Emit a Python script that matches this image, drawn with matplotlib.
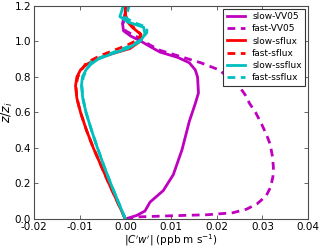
import matplotlib
matplotlib.use('Agg')
import matplotlib.pyplot as plt

# 数据
z_slow_vv05 = [0, 0.02, 0.045, 0.095, 0.16, 0.25, 0.39, 0.45, 0.55, 0.65, 0.71, 0.8, 0.84, 0.88, 0.91, 0.94, 0.97, 1.0, 1.03, 1.06, 1.1, 1.13, 1.16, 1.2]
x_slow_vv05 = [0, 0.0025, 0.0043, 0.0054, 0.0083, 0.0105, 0.0124, 0.0130, 0.0140, 0.0153, 0.0160, 0.0158, 0.0153, 0.0140, 0.0115, 0.0076, 0.0055, 0.0035, 0.0012, -0.0004, -0.0006, -0.0004, 0.0, 0.0]

z_fast_vv05 = [0, 0.012, 0.018, 0.024, 0.035, 0.055, 0.085, 0.13, 0.18, 0.24, 0.29, 0.35, 0.42, 0.48, 0.535, 0.6, 0.65, 0.7, 0.74, 0.79, 0.84, 0.88, 0.91, 0.95, 0.98, 1.02, 1.06, 1.1, 1.15, 1.2]
x_fast_vv05 = [0, 0.003, 0.01, 0.018, 0.0235, 0.0265, 0.0288, 0.0308, 0.0318, 0.0323, 0.0324, 0.0322, 0.0317, 0.0308, 0.0298, 0.0285, 0.0272, 0.0262, 0.0251, 0.0229, 0.0205, 0.0165, 0.0127, 0.0076, 0.0054, 0.003, 0.0, -0.0005, 0.0, 0.0]

z_slow_sflux = [0, 0.1, 0.2, 0.3, 0.4, 0.5, 0.6, 0.68, 0.75, 0.8, 0.84, 0.87, 0.9, 0.93, 0.96, 1.0, 1.04, 1.08, 1.11, 1.15, 1.2]
x_slow_sflux = [0, -0.0018, -0.0036, -0.0053, -0.0070, -0.0085, -0.0098, -0.0106, -0.0109, -0.0106, -0.0098, -0.0085, -0.0065, -0.0030, 0.0010, 0.0032, 0.0034, 0.0015, 0.0005, 0.0, 0.0]

z_fast_sflux = [0, 0.1, 0.2, 0.3, 0.4, 0.5, 0.6, 0.68, 0.75, 0.8, 0.84, 0.88, 0.92, 0.95, 0.98, 1.01, 1.04, 1.08, 1.11, 1.15, 1.2]
x_fast_sflux = [0, -0.0018, -0.0036, -0.0053, -0.0070, -0.0085, -0.0098, -0.0106, -0.0108, -0.0104, -0.0096, -0.0085, -0.0055, -0.0025, 0.0005, 0.0028, 0.0034, 0.0018, 0.0006, 0.0, 0.0]

z_slow_ssflux = [0, 0.1, 0.2, 0.3, 0.4, 0.5, 0.6, 0.68, 0.75, 0.8, 0.84, 0.87, 0.9, 0.93, 0.96, 1.0, 1.04, 1.08, 1.11, 1.14, 1.17, 1.2]
x_slow_ssflux = [0, -0.0016, -0.0032, -0.0047, -0.0061, -0.0074, -0.0086, -0.0093, -0.0096, -0.0094, -0.0086, -0.0076, -0.0060, -0.0030, 0.0005, 0.0032, 0.0043, 0.0040, 0.0005, -0.0012, -0.0008, -0.0005]

z_fast_ssflux = [0, 0.1, 0.2, 0.3, 0.4, 0.5, 0.6, 0.68, 0.75, 0.8, 0.84, 0.885, 0.92, 0.95, 0.98, 1.01, 1.05, 1.08, 1.11, 1.14, 1.17, 1.2]
x_fast_ssflux = [0, -0.0016, -0.0032, -0.0047, -0.0061, -0.0074, -0.0086, -0.0093, -0.0095, -0.0092, -0.0085, -0.0075, -0.0045, -0.0015, 0.0015, 0.0035, 0.0047, 0.0047, 0.0015, -0.0002, 0.0005, 0.0008]

x_ticks = [-0.02, -0.01, 0.00, 0.01, 0.02, 0.03, 0.04]
y_ticks = [0.0, 0.2, 0.4, 0.6, 0.8, 1.0, 1.2]

plt.rcParams['font.size'] = 7.5
plt.rcParams['xtick.direction'] = 'in'
plt.rcParams['ytick.direction'] = 'in'
plt.rcParams['axes.unicode_minus'] = False

fig = plt.figure(figsize=(3.2, 2.48), dpi=100)
ax = fig.add_axes([0.106, 0.117, 0.857, 0.859])

dash = (0, (2.8, 2.0))
lw = 2.0
ax.plot(x_slow_vv05, z_slow_vv05, color='m', lw=lw, label='slow-VV05')
ax.plot(x_fast_vv05, z_fast_vv05, color='m', lw=lw, ls=dash, label='fast-VV05')
ax.plot(x_slow_sflux, z_slow_sflux, color='r', lw=lw, label='slow-sflux')
ax.plot(x_fast_sflux, z_fast_sflux, color='r', lw=lw, ls=dash, label='fast-sflux')
ax.plot(x_slow_ssflux, z_slow_ssflux, color='c', lw=lw, label='slow-ssflux')
ax.plot(x_fast_ssflux, z_fast_ssflux, color='c', lw=lw, ls=dash, label='fast-ssflux')

ax.set_xlim(-0.02, 0.04)
ax.set_ylim(0, 1.2)
ax.set_xticks(x_ticks)
ax.set_yticks(y_ticks)
ax.set_xticklabels(['%.2f' % v for v in x_ticks])
ax.set_yticklabels(['%.1f' % v for v in y_ticks])
ax.tick_params(top=True, right=True, length=3, width=0.6, pad=2,
               colors='0.3', labelcolor='black')
for s in ax.spines.values():
    s.set_color('0.3')

ax.set_xlabel(r"$|C'w'|$ (ppb m s$^{-1}$)", fontsize=7.5, labelpad=0)
ax.set_ylabel(r"$z/z_i$", fontsize=9, labelpad=0)

leg = ax.legend(loc='upper right', fontsize=6.5, fancybox=False, framealpha=1,
                handlelength=2.0, borderpad=0.4, labelspacing=0.35,
                handletextpad=0.8, borderaxespad=0.3)
leg.get_frame().set_edgecolor('0.2')
leg.get_frame().set_linewidth(0.8)

fig.savefig('out.png', dpi=100)
